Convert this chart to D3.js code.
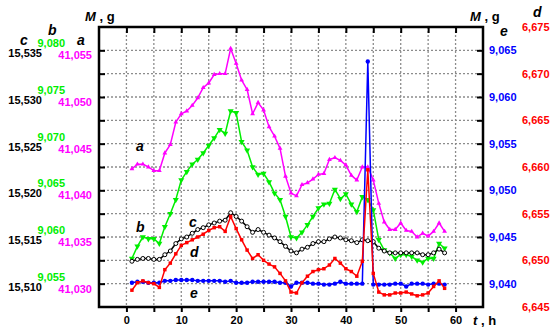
<!DOCTYPE html>
<html>
<head>
<meta charset="utf-8">
<script src="https://cdn.jsdelivr.net/npm/d3@7"></script>
<style>
  html, body { margin: 0; padding: 0; background: #fff; }
  svg { display: block; font-family: "Liberation Sans", Arial, sans-serif; }
</style>
</head>
<body>
<svg id="chart" width="552" height="334"></svg>
<script>
// Sampling times, h
const hours = [1, 2, 3, 4, 5, 6, 7, 8, 9, 10, 11, 12, 13, 14, 15, 16, 17, 18, 19, 20,
  21, 22, 23, 24, 25, 26, 27, 28, 29, 30, 31, 32, 33, 34, 35, 36, 37, 38, 39, 40,
  41, 42, 43, 44, 45, 46, 47, 48, 49, 50, 51, 52, 53, 54, 55, 56, 57, 58];

// Weighed masses M, g
const massA = [41.0423, 41.0428, 41.0428, 41.0425, 41.0421, 41.0421, 41.0440, 41.0449, 41.0473, 41.0482,
  41.0485, 41.0491, 41.0499, 41.0510, 41.0515, 41.0524, 41.0525, 41.0525, 41.0552, 41.0536,
  41.0518, 41.0508, 41.0482, 41.0494, 41.0486, 41.0468, 41.0458, 41.0445, 41.0415, 41.0397,
  41.0394, 41.0406, 41.0408, 41.0412, 41.0417, 41.0418, 41.0433, 41.0435, 41.0432, 41.0427,
  41.0416, 41.0411, 41.0425, 41.0425, 41.0411, 41.0386, 41.0366, 41.0358, 41.0358, 41.0365,
  41.0357, 41.0356, 41.0350, 41.0354, 41.0351, 41.0356, 41.0365, 41.0356];

const massB = [9.0577, 9.0590, 9.0600, 9.0598, 9.0598, 9.0593, 9.0611, 9.0625, 9.0640, 9.0661,
  9.0670, 9.0678, 9.0683, 9.0690, 9.0698, 9.0706, 9.0715, 9.0711, 9.0735, 9.0733,
  9.0702, 9.0693, 9.0675, 9.0667, 9.0668, 9.0659, 9.0647, 9.0640, 9.0622, 9.0600,
  9.0599, 9.0605, 9.0613, 9.0622, 9.0631, 9.0635, 9.0636, 9.0651, 9.0641, 9.0646,
  9.0635, 9.0627, 9.0643, 9.0640, 9.0629, 9.0597, 9.0586, 9.0583, 9.0577, 9.0581,
  9.0581, 9.0579, 9.0575, 9.0573, 9.0577, 9.0577, 9.0593, 9.0588];

const massC = [15.5124, 15.5126, 15.5127, 15.5127, 15.5126, 15.5126, 15.5131, 15.5135, 15.5143, 15.5148,
  15.5150, 15.5154, 15.5158, 15.5160, 15.5163, 15.5165, 15.5167, 15.5168, 15.5176, 15.5172,
  15.5167, 15.5161, 15.5155, 15.5158, 15.5155, 15.5152, 15.5149, 15.5145, 15.5140, 15.5135,
  15.5133, 15.5137, 15.5139, 15.5143, 15.5145, 15.5145, 15.5148, 15.5150, 15.5149, 15.5147,
  15.5146, 15.5144, 15.5147, 15.5146, 15.5145, 15.5138, 15.5135, 15.5133, 15.5133, 15.5133,
  15.5133, 15.5133, 15.5133, 15.5131, 15.5131, 15.5133, 15.5137, 15.5133];

const massD = [6.6468, 6.6476, 6.6478, 6.6476, 6.6475, 6.6471, 6.6490, 6.6497, 6.6507, 6.6516,
  6.6519, 6.6522, 6.6525, 6.6528, 6.6532, 6.6535, 6.6536, 6.6531, 6.6547, 6.6534,
  6.6522, 6.6511, 6.6502, 6.6506, 6.6500, 6.6496, 6.6493, 6.6486, 6.6478, 6.6466,
  6.6465, 6.6476, 6.6483, 6.6488, 6.6490, 6.6491, 6.6495, 6.6502, 6.6497, 6.6491,
  6.6488, 6.6483, 6.6499, 6.6597, 6.6486, 6.6466, 6.6463, 6.6463, 6.6465, 6.6465,
  6.6466, 6.6464, 6.6462, 6.6463, 6.6465, 6.6472, 6.6478, 6.6470];

const massE = [9.0401, 9.0402, 9.0402, 9.0401, 9.0401, 9.0401, 9.0403, 9.0403, 9.0404, 9.0404,
  9.0404, 9.0404, 9.0403, 9.0403, 9.0403, 9.0403, 9.0403, 9.0402, 9.0403, 9.0401,
  9.0401, 9.0401, 9.0402, 9.0402, 9.0402, 9.0402, 9.0402, 9.0401, 9.0401, 9.0397,
  9.0401, 9.0401, 9.0401, 9.0400, 9.0400, 9.0399, 9.0399, 9.0400, 9.0402, 9.0400,
  9.0400, 9.0400, 9.0400, 9.0638, 9.0399, 9.0399, 9.0399, 9.0399, 9.0400, 9.0400,
  9.0397, 9.0400, 9.0400, 9.0400, 9.0399, 9.0400, 9.0400, 9.0399];

// Axis tick labels
const ticksA = [41.030, 41.035, 41.040, 41.045, 41.050, 41.055];
const ticksB = [9.055, 9.060, 9.065, 9.070, 9.075, 9.080];
const ticksC = [15.510, 15.515, 15.520, 15.525, 15.530, 15.535];
const ticksD = [6.645, 6.650, 6.655, 6.660, 6.665, 6.670, 6.675];
const ticksE = [9.040, 9.045, 9.050, 9.055, 9.060, 9.065];
const ticksT = [0, 10, 20, 30, 40, 50, 60];

const svg = d3.select("#chart");
const box = { left: 99, right: 483, top: 27, bottom: 307 };

const x = d3.scaleLinear().domain([-5, 65]).range([box.left, box.right]);
const yA = d3.scaleLinear().domain([41.0275, 41.0575]).range([box.bottom, box.top]);
const yB = d3.scaleLinear().domain([9.0525, 9.0825]).range([box.bottom, box.top]);
const yC = d3.scaleLinear().domain([15.5075, 15.5375]).range([box.bottom, box.top]);
const yD = d3.scaleLinear().domain([6.645, 6.675]).range([box.bottom, box.top]);
const yE = d3.scaleLinear().domain([9.0375, 9.0675]).range([box.bottom, box.top]);

const comma = v => d3.format(".3f")(v).replace(".", ",");
const gridY = d3.range(13).map(i => 6.645 + i * 0.0025);
const gridX = d3.range(0, 61, 5);

// dotted grid
const grid = svg.append("g").attr("stroke", "#8c8c8c").attr("stroke-width", 1.3)
  .attr("stroke-dasharray", "2,2");
grid.selectAll("line.h").data(gridY.slice(1, -1)).join("line")
  .attr("x1", box.left).attr("x2", box.right)
  .attr("y1", d => yD(d)).attr("y2", d => yD(d));
grid.selectAll("line.v").data(gridX).join("line")
  .attr("y1", box.top).attr("y2", box.bottom)
  .attr("x1", d => x(d)).attr("x2", d => x(d));

// tick marks (inside the frame)
function ticksOnly(g) {
  g.select(".domain").remove();
  g.selectAll(".tick line").attr("stroke", "#000").attr("stroke-width", 2);
  g.selectAll(".tick text").remove();
}
svg.append("g").attr("transform", `translate(${box.left},0)`)
  .call(d3.axisRight(yD).tickValues(gridY.slice(1, -1)).tickSize(6)).call(ticksOnly);
svg.append("g").attr("transform", `translate(${box.right},0)`)
  .call(d3.axisLeft(yD).tickValues(gridY.slice(1, -1)).tickSize(6)).call(ticksOnly);
svg.append("g").attr("transform", `translate(0,${box.top})`)
  .call(d3.axisBottom(x).tickValues(gridX).tickSize(6)).call(ticksOnly);
svg.append("g").attr("transform", `translate(0,${box.bottom})`)
  .call(d3.axisBottom(x).tickValues(gridX).tickSize(5)).call(ticksOnly);

// frame
svg.append("rect").attr("x", box.left).attr("y", box.top)
  .attr("width", box.right - box.left).attr("height", box.bottom - box.top)
  .attr("fill", "none").attr("stroke", "#000").attr("stroke-width", 2.5);

// value labels for the five scales
function labels(g, color) {
  g.select(".domain").remove();
  g.selectAll(".tick line").remove();
  g.selectAll(".tick text").attr("fill", color).attr("font-size", 11)
    .attr("font-weight", "bold").attr("font-family", "Liberation Sans, Arial, sans-serif");
}
svg.append("g").attr("transform", "translate(42,3)")
  .call(d3.axisLeft(yC).tickValues(ticksC).tickFormat(comma).tickSize(0).tickPadding(0))
  .call(labels, "#000");
svg.append("g").attr("transform", "translate(92,5)")
  .call(d3.axisLeft(yA).tickValues(ticksA).tickFormat(comma).tickSize(0).tickPadding(0))
  .call(labels, "#ff00ff");
svg.append("g").attr("transform", "translate(65,-7)")
  .call(d3.axisLeft(yB).tickValues(ticksB).tickFormat(comma).tickSize(0).tickPadding(0))
  .call(labels, "#00ee00");
svg.append("g").attr("transform", "translate(489,0)")
  .call(d3.axisRight(yE).tickValues(ticksE).tickFormat(comma).tickSize(0).tickPadding(0))
  .call(labels, "#0000ff");
svg.append("g").attr("transform", "translate(522,0)")
  .call(d3.axisRight(yD).tickValues(ticksD).tickFormat(comma).tickSize(0).tickPadding(0))
  .call(labels, "#ff0000");
svg.append("g").attr("transform", `translate(0,${box.bottom})`)
  .call(d3.axisBottom(x).tickValues(ticksT).tickFormat(d3.format("d")).tickSize(0).tickPadding(9))
  .call(labels, "#000");

// series
const series = [
  { key: "a", vals: massA, y: yA, color: "#ff00ff", mark: "tri", size: 10 },
  { key: "b", vals: massB, y: yB, color: "#00ee00", mark: "triDown", size: 16 },
  { key: "c", vals: massC, y: yC, color: "#000000", mark: "ring", size: 0 },
  { key: "e", vals: massE, y: yE, color: "#0000ff", mark: "dot", size: 0 },
  { key: "d", vals: massD, y: yD, color: "#ff0000", mark: "square", size: 12 }
];

series.forEach(s => {
  const pts = hours.map((t, i) => [x(t), s.y(s.vals[i])]);
  const g = svg.append("g");
  g.append("path").attr("d", d3.line()(pts)).attr("fill", "none")
    .attr("stroke", s.color).attr("stroke-width", 1.5).attr("stroke-linejoin", "round");
  if (s.mark === "ring") {
    g.selectAll("circle").data(pts).join("circle")
      .attr("cx", d => d[0]).attr("cy", d => d[1]).attr("r", 2)
      .attr("fill", "#fff").attr("stroke", "#000").attr("stroke-width", 1);
  } else if (s.mark === "dot") {
    g.selectAll("circle").data(pts).join("circle")
      .attr("cx", d => d[0]).attr("cy", d => d[1]).attr("r", 2.2).attr("fill", s.color);
  } else {
    const type = s.mark === "square" ? d3.symbolSquare : d3.symbolTriangle;
    const rot = s.mark === "triDown" ? 180 : 0;
    g.selectAll("path.m").data(pts).join("path").attr("class", "m")
      .attr("d", d3.symbol(type, s.size))
      .attr("transform", d => `translate(${d[0]},${d[1]}) rotate(${rot})`)
      .attr("fill", s.color);
  }
});

// titles and series letters
const txt = (xx, yy, size) => svg.append("text").attr("x", xx).attr("y", yy)
  .attr("font-size", size).attr("font-weight", "bold").attr("fill", "#000");

function massTitle(xx) {
  const t = txt(xx, 21, 13);
  t.append("tspan").attr("font-style", "italic").text("M");
  t.append("tspan").text(" , g");
}
massTitle(85);
massTitle(470);

[["c", 20, 45], ["b", 48, 35], ["a", 77, 45], ["e", 500, 36], ["d", 533, 17],
 ["a", 136, 151], ["b", 136, 232], ["c", 189, 227], ["d", 190, 257], ["e", 190, 298]]
  .forEach(([s, xx, yy]) => txt(xx, yy, 14).attr("font-style", "italic").text(s));

const tl = txt(473, 325, 13);
tl.append("tspan").attr("font-style", "italic").text("t");
tl.append("tspan").text(" , h");
</script>
</body>
</html>
